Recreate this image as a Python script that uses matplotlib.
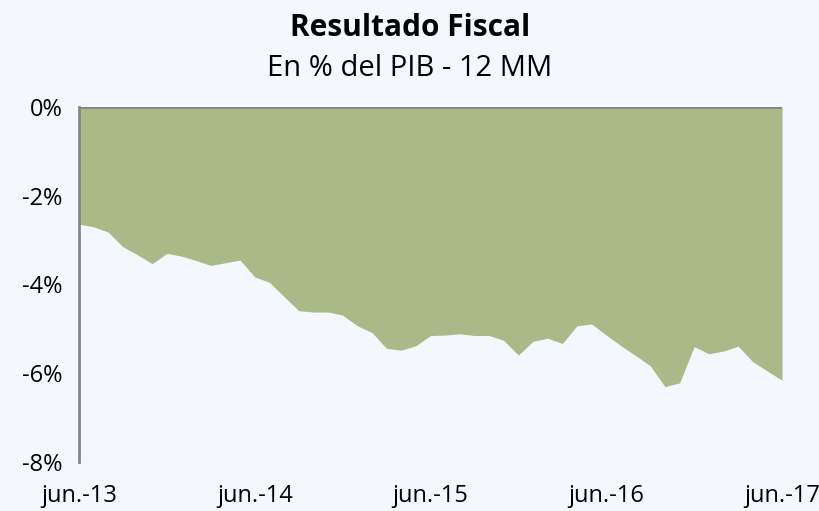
import matplotlib
matplotlib.use('Agg')
import matplotlib.pyplot as plt
import numpy as np

plt.rcParams['font.family'] = ['Open Sans', 'DejaVu Sans']

# monthly fiscal result, % of GDP (12 month rolling), jun-13 .. jun-17
resultado = [-2.64, -2.70, -2.82, -3.15, -3.33, -3.53, -3.30, -3.36, -3.46, -3.57,
             -3.51, -3.45, -3.83, -3.95, -4.27, -4.59, -4.62, -4.62, -4.69, -4.93,
             -5.08, -5.44, -5.48, -5.38, -5.15, -5.14, -5.11, -5.15, -5.15, -5.26,
             -5.59, -5.28, -5.21, -5.33, -4.93, -4.89, -5.14, -5.38, -5.60, -5.83,
             -6.30, -6.22, -5.40, -5.56, -5.50, -5.39, -5.74, -5.95, -6.16]
xlabels = ['jun.-13', 'jun.-14', 'jun.-15', 'jun.-16', 'jun.-17']
yticks = [0, -2, -4, -6, -8]

bg = '#F4F7FC'
green = '#A9BA88'
grey = '#868686'

x = np.arange(len(resultado))

fig = plt.figure(figsize=(8.2, 5.11), dpi=100, facecolor=bg)
ax = fig.add_axes([0.0963, 0.0959, 0.9537 - 0.0963, 0.7906 - 0.0959])
ax.set_facecolor(bg)

ax.fill_between(x, resultado, 0, color=green, linewidth=0)
ax.axhline(0, color=grey, lw=2, zorder=3)

ax.set_xlim(0, len(resultado) - 1)
ax.set_ylim(-8, 0)
ax.set_yticks(yticks)
ax.set_yticklabels(['%d%%' % v for v in yticks], fontsize=17)
ax.set_xticks(np.arange(0, len(resultado), 12))
ax.set_xticklabels(xlabels, fontsize=17)
ax.tick_params(length=0)
ax.tick_params(axis='y', pad=12)
ax.tick_params(axis='x', pad=16)

for s in ['top', 'right', 'bottom']:
    ax.spines[s].set_visible(False)
ax.spines['left'].set_color(grey)
ax.spines['left'].set_linewidth(2)

fig.text(0.5, 1 - 28 / 511, 'Resultado Fiscal', ha='center', va='center',
         fontsize=21.5, fontweight='bold')
fig.text(0.5, 1 - 68 / 511, 'En % del PIB - 12 MM', ha='center', va='center',
         fontsize=21)

fig.savefig('out.png', dpi=100, facecolor=bg)
